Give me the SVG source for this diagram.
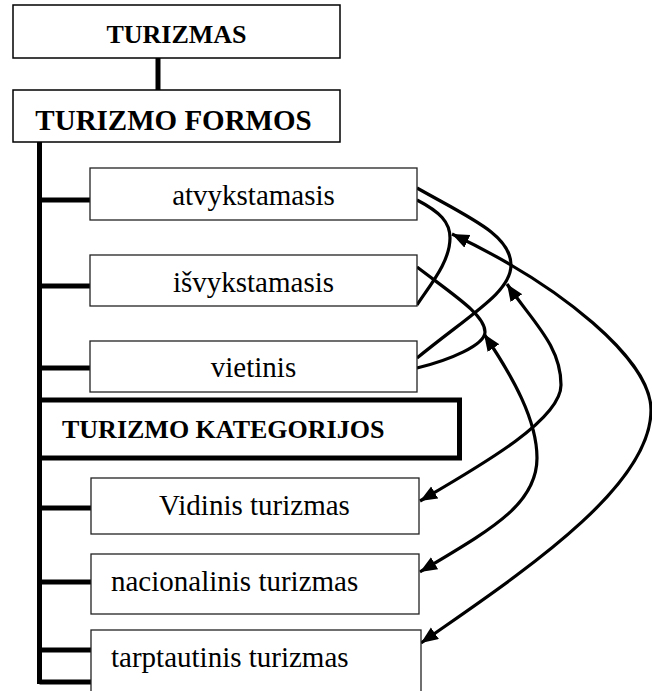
<svg xmlns="http://www.w3.org/2000/svg" width="652" height="691" viewBox="0 0 652 691">
<style>
.box{fill:#fff;stroke:#000;stroke-width:1.5}
.sub{fill:#fff;stroke:#222;stroke-width:1.3}
.thick{fill:#fff;stroke:#000;stroke-width:5}
.hd{font-family:"Liberation Serif","Times New Roman",serif;font-weight:bold;fill:#000}
.tx{font-family:"Liberation Serif","Times New Roman",serif;font-size:29px;fill:#000}
.tree{stroke:#000;stroke-width:5;fill:none}
.cv{stroke:#000;stroke-width:3.2;fill:none}
.ar{stroke:#000;stroke-width:3.2;fill:none;marker-start:url(#ah);marker-end:url(#ah)}
</style>
<defs>
<marker id="ah" markerUnits="userSpaceOnUse" markerWidth="20" markerHeight="16" viewBox="0 0 20 16" refX="17" refY="7" orient="auto-start-reverse">
<path d="M0,0 L17,7 L0,14 z" fill="#000"/>
</marker>
</defs>
<g id="connectors">
<line class="tree" x1="158" y1="58" x2="158" y2="90"/>
<line class="tree" x1="39.5" y1="142" x2="39.5" y2="684"/>
<line class="tree" x1="39.5" y1="200" x2="90" y2="200"/>
<line class="tree" x1="39.5" y1="286" x2="90" y2="286"/>
<line class="tree" x1="39.5" y1="368" x2="90" y2="368"/>
<line class="tree" x1="39.5" y1="508" x2="91" y2="508"/>
<line class="tree" x1="39.5" y1="582" x2="91" y2="582"/>
<line class="tree" x1="39.5" y1="650" x2="91" y2="650"/>
<line class="tree" x1="39.5" y1="682" x2="91" y2="682"/>
<path class="cv" d="M417,188 C470,218 511,235 511,265 C511,292 472,313 417,358"/>
<path class="cv" d="M417,200 C440,212 450,222 450,238 C450,262 430,285 417,305"/>
<path class="cv" d="M417,267 C455,296 485,315 485,332 C485,345 450,360 417,368"/>
<path class="ar" d="M421,643 C512,579 651,490 651,410 C651,360 562,286 452,234"/>
<path class="ar" d="M420,501 C480,466 561,420 561,385 C561,345 531,320 507,284"/>
<path class="ar" d="M420,572 C490,530 537,505 537,458 C537,420 513,377 484,334"/>
</g>
<g id="turizmas">
<rect class="box" x="13" y="5" width="327" height="53"/>
<text class="hd" x="176.5" y="42.5" font-size="26" text-anchor="middle">TURIZMAS</text>
</g>
<g id="turizmo-formos">
<rect class="box" x="13" y="90" width="327" height="52"/>
<text class="hd" x="173.5" y="130" font-size="29" text-anchor="middle">TURIZMO FORMOS</text>
</g>
<g id="atvykstamasis">
<rect class="sub" x="90" y="168" width="327" height="52"/>
<text class="tx" x="253.5" y="205" text-anchor="middle">atvykstamasis</text>
</g>
<g id="isvykstamasis">
<rect class="sub" x="90" y="255" width="327" height="51"/>
<text class="tx" x="253.5" y="291.5" text-anchor="middle">išvykstamasis</text>
</g>
<g id="vietinis">
<rect class="sub" x="90" y="341" width="327" height="51"/>
<text class="tx" x="253.5" y="377" text-anchor="middle">vietinis</text>
</g>
<g id="turizmo-kategorijos">
<rect class="thick" x="39.5" y="400" width="420" height="58"/>
<text class="hd" x="62" y="437.5" font-size="26">TURIZMO KATEGORIJOS</text>
</g>
<g id="vidinis">
<rect class="sub" x="91" y="478" width="328" height="56"/>
<text class="tx" x="254.5" y="515" text-anchor="middle">Vidinis turizmas</text>
</g>
<g id="nacionalinis">
<rect class="sub" x="91" y="554" width="328" height="60"/>
<text class="tx" x="111" y="590.5">nacionalinis turizmas</text>
</g>
<g id="tarptautinis">
<rect class="sub" x="91" y="630" width="330" height="70"/>
<text class="tx" x="111" y="666.5">tarptautinis turizmas</text>
</g>
</svg>
